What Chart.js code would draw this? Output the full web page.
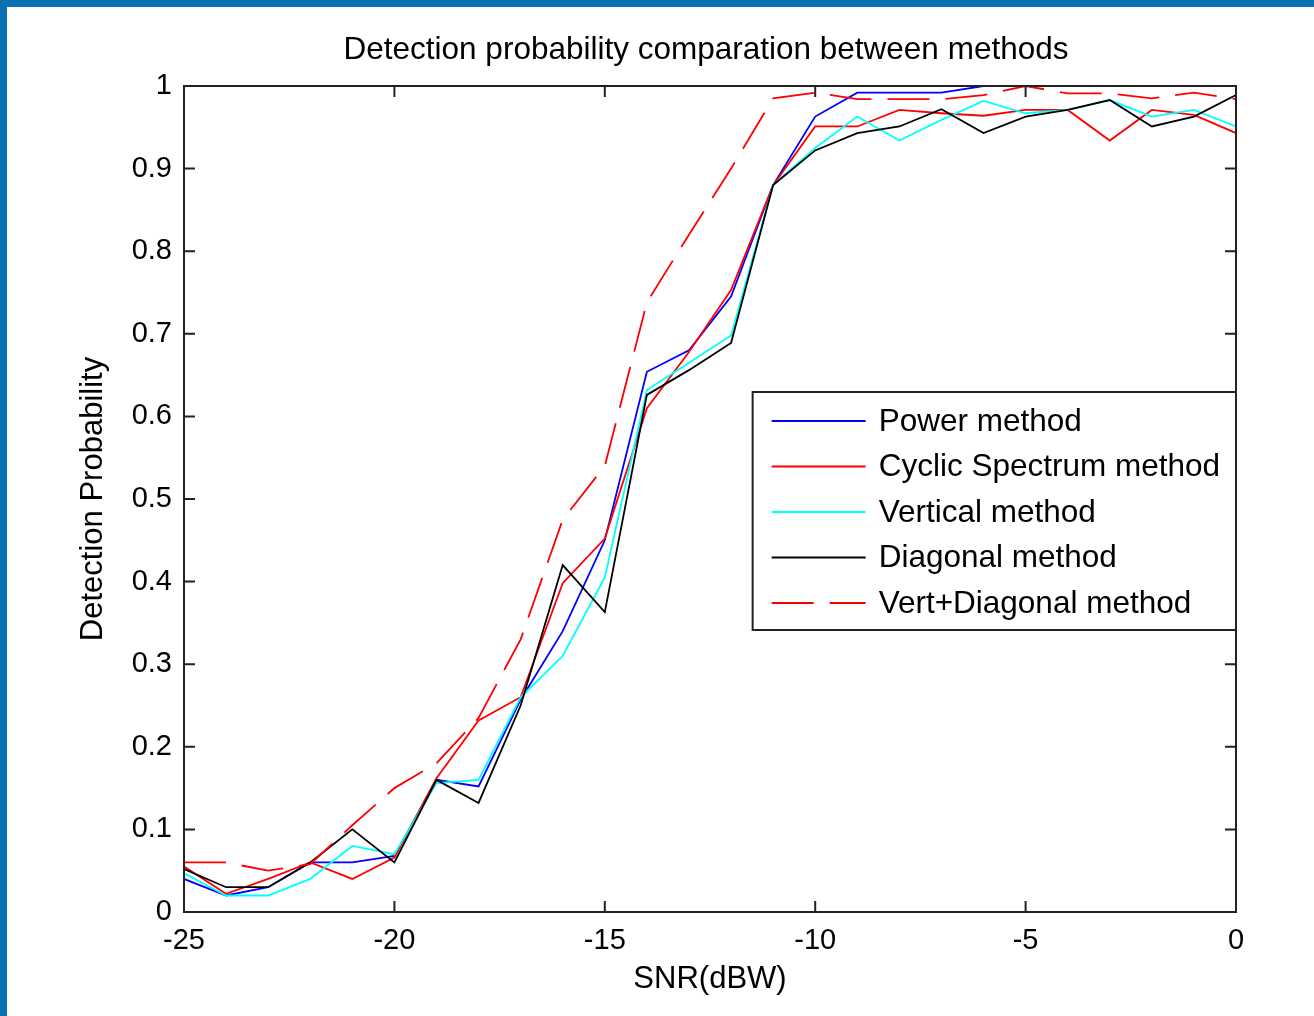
<!DOCTYPE html>
<html>
<head>
<meta charset="utf-8">
<script src="https://cdn.jsdelivr.net/npm/chart.js@4.4.0/dist/chart.umd.min.js"></script>
<style>
  html, body { margin: 0; padding: 0; }
  body { width: 1314px; height: 1016px; background: #0a72b2; overflow: hidden; }
  #frame { position: absolute; left: 7px; top: 7px; width: 1307px; height: 1009px; background: #fff; }
</style>
</head>
<body>
<div id="frame"><canvas id="detection_chart" width="1307" height="1009"></canvas></div>
<script>
// SNR in dBW, one point per dB
const snr = [-25, -24, -23, -22, -21, -20, -19, -18, -17, -16, -15, -14, -13,
             -12, -11, -10, -9, -8, -7, -6, -5, -4, -3, -2, -1, 0];

const powerMethod = [0.04, 0.02, 0.03, 0.06, 0.06, 0.068, 0.16, 0.152, 0.257, 0.34, 0.45, 0.654, 0.68,
                     0.745, 0.88, 0.963, 0.992, 0.992, 0.992, 1.0, 1.0, 1.0, 1.0, 1.0, 1.0, 1.0];
const cyclicMethod = [0.055, 0.022, 0.04, 0.06, 0.04, 0.066, 0.162, 0.232, 0.26, 0.398, 0.452, 0.61, 0.678,
                      0.753, 0.88, 0.951, 0.951, 0.971, 0.967, 0.964, 0.971, 0.971, 0.934, 0.971, 0.965, 0.943];
const verticalMethod = [0.047, 0.02, 0.02, 0.04, 0.08, 0.07, 0.156, 0.16, 0.26, 0.31, 0.405, 0.632, 0.665,
                        0.698, 0.88, 0.925, 0.963, 0.934, 0.959, 0.982, 0.967, 0.971, 0.983, 0.963, 0.971, 0.951];
const diagonalMethod = [0.052, 0.03, 0.03, 0.06, 0.10, 0.06, 0.16, 0.132, 0.25, 0.42, 0.363, 0.626, 0.656,
                        0.689, 0.88, 0.922, 0.943, 0.951, 0.972, 0.943, 0.963, 0.971, 0.983, 0.951, 0.963, 0.989];
const vertDiagMethod = [0.06, 0.06, 0.05, 0.058, 0.105, 0.15, 0.18, 0.235, 0.33, 0.475, 0.54, 0.738, 0.82,
                        0.9, 0.985, 0.992, 0.984, 0.984, 0.984, 0.989, 1.0, 0.991, 0.991, 0.985, 0.992, 0.984];

const seriesNames = ['Power method', 'Cyclic Spectrum method', 'Vertical method', 'Diagonal method', 'Vert+Diagonal method'];
const yTickLabels = ['0', '0.1', '0.2', '0.3', '0.4', '0.5', '0.6', '0.7', '0.8', '0.9', '1'];

const FONT = '"Liberation Sans", Arial, sans-serif';
const TICK = 11;

function pts(values) {
    return snr.map((s, i) => ({ x: s, y: values[i] }));
}

function line(label, values, color, dash, order) {
    return {
        label: label,
        data: pts(values),
        borderColor: color,
        borderWidth: 1.8,
        borderDash: dash,
        pointRadius: 0,
        tension: 0,
        fill: false,
        order: order
    };
}

// box with inward ticks, title and in-plot legend (MATLAB look)
const matlabFrame = {
    id: 'matlabFrame',
    afterDatasetsDraw(chart) {
        const { ctx, chartArea: a, scales: { x, y } } = chart;
        ctx.save();
        ctx.strokeStyle = '#222';
        ctx.lineWidth = 2;
        ctx.strokeRect(a.left, a.top, a.width, a.height);
        ctx.beginPath();
        x.ticks.forEach(t => {
            const px = x.getPixelForValue(t.value);
            ctx.moveTo(px, a.bottom); ctx.lineTo(px, a.bottom - TICK);
            ctx.moveTo(px, a.top); ctx.lineTo(px, a.top + TICK);
        });
        y.ticks.forEach(t => {
            const py = y.getPixelForValue(t.value);
            ctx.moveTo(a.left, py); ctx.lineTo(a.left + TICK, py);
            ctx.moveTo(a.right, py); ctx.lineTo(a.right - TICK, py);
        });
        ctx.stroke();

        // title
        ctx.fillStyle = '#000';
        ctx.font = '31.5px ' + FONT;
        ctx.textAlign = 'center';
        ctx.textBaseline = 'middle';
        ctx.fillText('Detection probability comparation between methods', (a.left + a.right) / 2 - 4, 43);

        // legend
        ctx.font = '31.5px ' + FONT;
        const ds = chart.data.datasets;
        let maxW = 0;
        ds.forEach(d => { maxW = Math.max(maxW, ctx.measureText(d.label).width); });
        const w = 126 + maxW + 16;
        const h = 238;
        const bx = a.right - w;
        const by = a.top + 306;
        ctx.fillStyle = '#fff';
        ctx.fillRect(bx, by, w, h);
        ctx.strokeStyle = '#222';
        ctx.lineWidth = 2;
        ctx.strokeRect(bx, by, w, h);
        ds.forEach((d, i) => {
            const ly = by + 29 + i * 45.5;
            ctx.beginPath();
            ctx.strokeStyle = d.borderColor;
            ctx.lineWidth = 1.8;
            ctx.setLineDash(d.borderDash || []);
            ctx.moveTo(bx + 19, ly);
            ctx.lineTo(bx + 113, ly);
            ctx.stroke();
            ctx.setLineDash([]);
            ctx.fillStyle = '#000';
            ctx.textAlign = 'left';
            ctx.fillText(d.label, bx + 126, ly + 1);
        });
        ctx.restore();
    }
};

(function detection_chart()
{
    const el = document.getElementById('detection_chart');
    const myChart = new Chart(el, {
        type: 'line',
        data: {
            datasets: [
                line(seriesNames[0], powerMethod, '#0000ff', [], 5),
                line(seriesNames[1], cyclicMethod, '#ff0000', [], 4),
                line(seriesNames[2], verticalMethod, '#00ffff', [], 3),
                line(seriesNames[3], diagonalMethod, '#000000', [], 2),
                line(seriesNames[4], vertDiagMethod, '#ff0000', [42, 16], 1)
            ]
        },
        options: {
            responsive: false,
            animation: false,
            layout: { padding: { top: 79, right: 78, left: 0, bottom: 0 } },
            plugins: {
                legend: { display: false },
                title: { display: false },
                tooltip: { enabled: false }
            },
            scales: {
                x: {
                    type: 'linear',
                    min: -25,
                    max: 0,
                    grid: { display: false, drawTicks: false },
                    border: { display: false },
                    ticks: { stepSize: 5, padding: 12, color: '#000', font: { family: FONT, size: 29 } },
                    title: { display: true, text: 'SNR(dBW)', color: '#000', font: { family: FONT, size: 31 }, padding: { top: 0, bottom: 18 } },
                    afterFit: s => { s.height = 104; }
                },
                y: {
                    min: 0,
                    max: 1,
                    grid: { display: false, drawTicks: false },
                    border: { display: false },
                    ticks: {
                        stepSize: 0.1,
                        padding: 12,
                        color: '#000',
                        font: { family: FONT, size: 29 },
                        callback: (v, i) => yTickLabels[i]
                    },
                    title: { display: true, text: 'Detection Probability', color: '#000', font: { family: FONT, size: 31 }, padding: { top: 68, bottom: 0 } },
                    afterFit: s => { s.width = 177; }
                }
            }
        },
        plugins: [matlabFrame]
    });
})();
</script>
</body>
</html>
